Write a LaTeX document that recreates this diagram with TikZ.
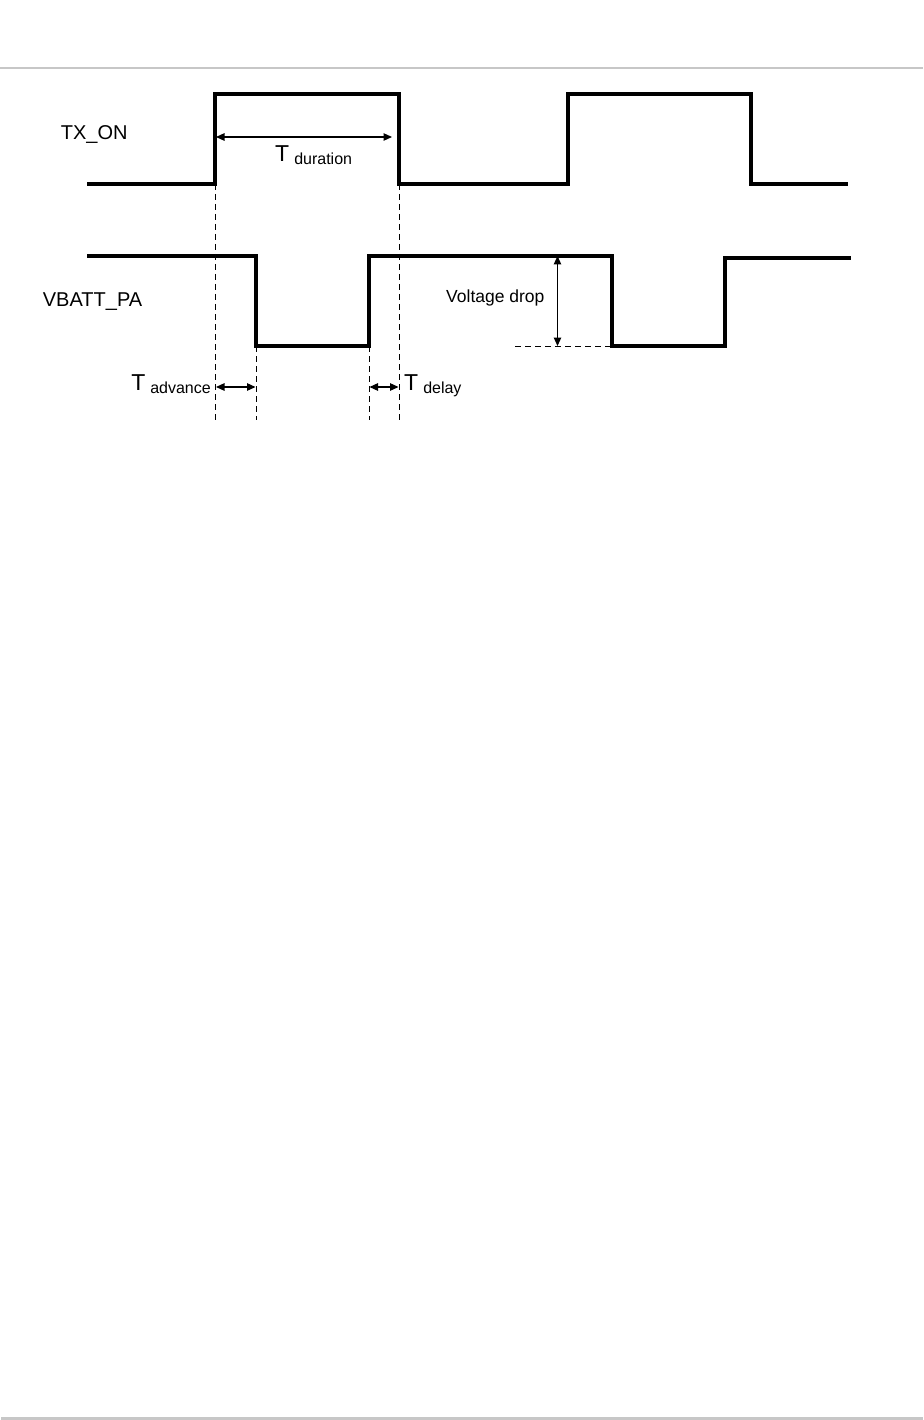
\documentclass[tikz,border=0pt]{standalone}
\usepackage{fontspec}
\setmainfont{Liberation Sans}
\usepackage{tikz}
\usetikzlibrary{arrows.meta,calc,positioning}

\tikzset{
	sig/.style={line width=3.5pt, line join=miter},
	guide/.style={dash pattern=on 6pt off 4pt, line width=1pt},
	dim/.style={{Triangle[length=8.5pt,width=7.5pt]}-{Triangle[length=8.5pt,width=7.5pt]}, line width=1.2pt},
	lbl/.style={inner sep=0pt, font=\fontsize{20}{24}\selectfont},
	small/.style={inner sep=0pt, font=\fontsize{17.5}{21}\selectfont},
	tlbl/.style={inner sep=0pt}
}
\newcommand{\tname}[1]{{\fontsize{23}{26}\selectfont T}\hspace{5pt}\raisebox{-3pt}{\fontsize{16}{18}\selectfont #1}}

\begin{document}
\begin{tikzpicture}
[x=1pt,y=-1pt]
\useasboundingbox (0,0) rectangle (923,1420);

% page rules
\draw[black!22, line width=2pt] (0,68.5) -- (923,68.5);
\fill[black!22] (1,1416.7) rectangle (923,1420);

% edges
\coordinate (txup) at (215,184);
\coordinate (txdn) at (399,184);
\coordinate (vbdn) at (256,346);
\coordinate (vbup) at (369,346);
\coordinate (vdlo) at (515,346);
\coordinate (vdhi) at (557.5,256);

% signals
\draw[sig] (87,184) -- (txup) -- (215,94) -- (399,94) -- (txdn) -- (568,184)
	-- (568,94) -- (751,94) -- (751,184) -- (848,184);
\draw[sig] (87,256) -- (256,256) -- (vbdn) -- (vbup) -- (369,256) -- (612,256)
	-- (612,346) -- (725,346) -- (725,258) -- (851,258);

\node (tx) at (60.7,139.3)[lbl,anchor=base west] {TX\_ON};
\node (vb) at (42.7,306)[lbl,anchor=base west] {VBATT\_PA};

% guides
\draw[guide] (txup) -- (215,420);
\draw[guide] (txdn) -- (399,420);
\draw[guide] (vbdn) -- (256,420);
\draw[guide] (vbup) -- (369,420);
\draw[guide] (vdlo) -- (612,346);

% timings
\draw[dim] (216,137) -- (392,137);
\node (tdur) at (275,161.7)[tlbl,anchor=base west] {\tname{duration}};

\draw[dim] (216,387) -- (255.5,387);
\node (tadv) at (211,390)[tlbl,anchor=base east] {\tname{advance}};

\draw[dim] (369.5,387) -- (398.5,387);
\node (tdel) at (404,390)[tlbl,anchor=base west] {\tname{delay}};

\draw[dim] (vdhi) -- (vdhi |- vdlo);
\node (vdrop) at (446,302.7)[small,anchor=base west] {Voltage drop};

\end{tikzpicture}
\end{document}
